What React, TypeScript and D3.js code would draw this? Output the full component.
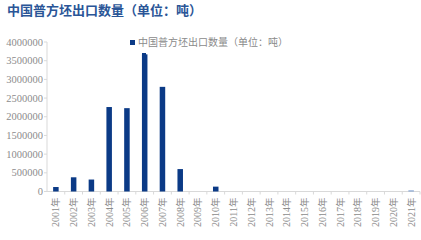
import React from "react";
import * as d3 from "d3";

const years = ["2001年","2002年","2003年","2004年","2005年","2006年","2007年","2008年","2009年","2010年","2011年","2012年","2013年","2014年","2015年","2016年","2017年","2018年","2019年","2020年","2021年"];
const exportsT = [120000, 380000, 320000, 2260000, 2230000, 3670000, 2800000, 600000, 0, 130000, 0, 0, 0, 0, 0, 0, 0, 0, 0, 0, 30000];
const yTicks = [0, 500000, 1000000, 1500000, 2000000, 2500000, 3000000, 3500000, 4000000];
const title = "中国普方坯出口数量（单位：吨）";
const legendLabel = "中国普方坯出口数量（单位：吨）";

export default function App() {
  const W = 421, H = 240;
  const left = 47, right = 420, top = 42, bottom = 191.5;
  const x = d3.scaleBand<string>().domain(years).range([left, right]).paddingInner(0.69).paddingOuter(0.345);
  const xb = d3.scaleBand<string>().domain(years).range([left, right]);
  const y = d3.scaleLinear().domain([0, 4000000]).range([bottom, top]);
  const serif = "'Liberation Serif', 'Times New Roman', serif";
  const cjk = "'Noto Sans CJK SC', sans-serif";
  return (
    <svg width={W} height={H} style={{ position: "absolute", left: 0, top: 0, background: "#fff" }}>
      <text x={7} y={15} fontFamily={cjk} fontWeight={700} fontSize={13} fill="#2a5597">{title}</text>
      {/* legend */}
      <rect x={130} y={40} width={5} height={5} fill="#0b3a86" />
      <text x={138} y={45.5} fontFamily={cjk} fontSize={10} fill="#8a8a8a">{legendLabel}</text>
      <rect x={142} y={53} width={4} height={4} fill="#0b3a86" />
      {/* y axis */}
      <line x1={left} x2={left} y1={top} y2={bottom} stroke="#d9d9d9" />
      {yTicks.map((t) => (
        <g key={t}>
          <line x1={left - 3} x2={left} y1={y(t)} y2={y(t)} stroke="#d9d9d9" />
          <text x={left - 4} y={y(t)} dy="0.35em" textAnchor="end" fontFamily={serif} fontSize={10.5} fill="#8c8c8c">{t}</text>
        </g>
      ))}
      {/* x axis */}
      <line x1={left} x2={right} y1={bottom} y2={bottom} stroke="#d9d9d9" />
      {years.map((yr) => (
        <line key={"t" + yr} x1={xb(yr)! + xb.bandwidth()} x2={xb(yr)! + xb.bandwidth()} y1={bottom} y2={bottom + 3} stroke="#d9d9d9" />
      ))}
      {years.map((yr, i) => (
        <rect key={"b" + yr} x={x(yr)!} width={x.bandwidth()} y={y(exportsT[i])} height={bottom - y(exportsT[i])} fill={i === 20 ? "#7f9fd0" : "#0b3a86"} />
      ))}
      {years.map((yr) => {
        const cx = xb(yr)! + xb.bandwidth() / 2;
        return (
          <text key={"l" + yr} transform={`translate(${cx + 3.5},${bottom + 6}) rotate(-90)`} textAnchor="end" fontFamily={serif} fontSize={10} fill="#8c8c8c">
            {yr.slice(0, 4)}<tspan fontFamily={cjk} fontSize={9.5}>年</tspan>
          </text>
        );
      })}
    </svg>
  );
}
